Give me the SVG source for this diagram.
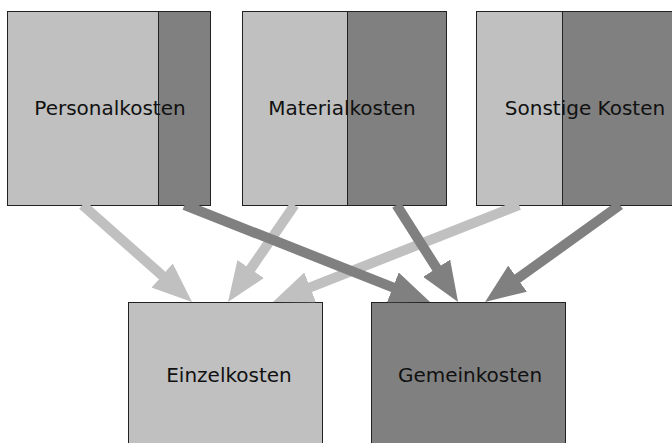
<svg xmlns="http://www.w3.org/2000/svg" width="672" height="443" viewBox="0 0 672 443">
<style>
.l{fill:#c0c0c0}
.d{fill:#808080}
.b{stroke:#222;stroke-width:1}
.t{font-family:"DejaVu Sans",Verdana,sans-serif;font-size:20px;fill:#111;text-anchor:middle}
.al{stroke:#c0c0c0;stroke-width:10;fill:none}
.ad{stroke:#808080;stroke-width:10;fill:none}
</style>
<defs>
<marker id="hl" markerUnits="userSpaceOnUse" markerWidth="42" markerHeight="32" refX="2" refY="16" orient="auto"><path d="M0,0 L40,16 L0,32 z" fill="#c0c0c0"/></marker>
<marker id="hd" markerUnits="userSpaceOnUse" markerWidth="42" markerHeight="32" refX="2" refY="16" orient="auto"><path d="M0,0 L40,16 L0,32 z" fill="#808080"/></marker>
</defs>
<g id="personalkosten">
<rect class="l b" x="7.5" y="11.5" width="151" height="194"/>
<rect class="d b" x="158.5" y="11.5" width="52" height="194"/>
<text class="t" x="110" y="115">Personalkosten</text>
</g>
<g id="materialkosten">
<rect class="l b" x="242.5" y="11.5" width="105" height="194"/>
<rect class="d b" x="347.5" y="11.5" width="99" height="194"/>
<text class="t" x="342" y="115">Materialkosten</text>
</g>
<g id="sonstige">
<rect class="l b" x="476.5" y="11.5" width="86" height="194"/>
<rect class="d b" x="562.5" y="11.5" width="132" height="194"/>
<text class="t" x="585" y="115">Sonstige Kosten</text>
</g>
<g id="einzelkosten">
<rect class="l b" x="128.5" y="302.5" width="194" height="160"/>
<text class="t" x="229" y="382">Einzelkosten</text>
</g>
<g id="gemeinkosten">
<rect class="d b" x="371.5" y="302.5" width="194" height="160"/>
<text class="t" x="470" y="382">Gemeinkosten</text>
</g>
<g id="connectors">
<line class="al" x1="82.5" y1="205" x2="163.6" y2="276.8" marker-end="url(#hl)"/>
<line class="al" x1="294.5" y1="205" x2="249.5" y2="270.7" marker-end="url(#hl)"/>
<line class="al" x1="519" y1="205" x2="308.3" y2="288.1" marker-end="url(#hl)"/>
<line class="ad" x1="184.5" y1="205" x2="394.7" y2="288.1" marker-end="url(#hd)"/>
<line class="ad" x1="396.5" y1="205" x2="437.7" y2="269.9" marker-end="url(#hd)"/>
<line class="ad" x1="620" y1="205" x2="515.9" y2="279.8" marker-end="url(#hd)"/>
</g>
</svg>
